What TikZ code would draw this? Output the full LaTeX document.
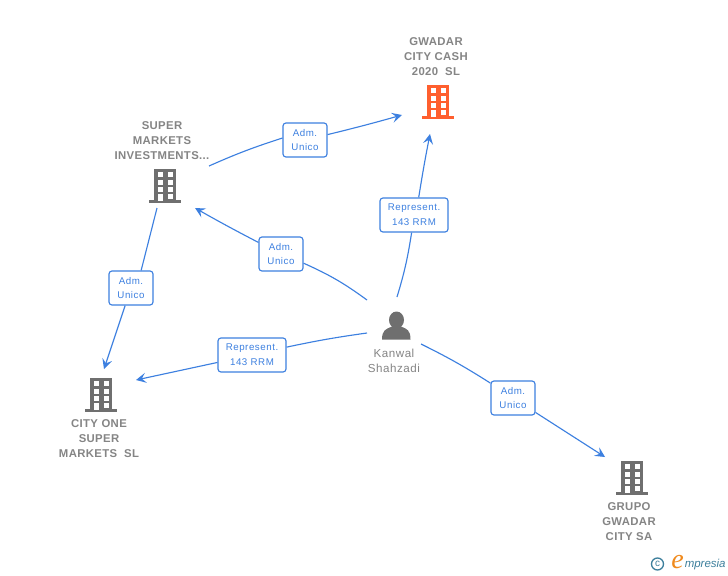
\documentclass[tikz,border=0pt]{standalone}
\usepackage{fontspec}
\setmainfont{Liberation Sans}
\newfontfamily\spacedfont[LetterSpace=4.5]{Liberation Sans}
\newfontfamily\companyfont[LetterSpace=3.2]{Liberation Sans}
\newfontfamily\spacedsmall[LetterSpace=5.5]{Liberation Sans}
\newfontfamily\logofont{Liberation Serif}
\usetikzlibrary{arrows.meta}
\definecolor{linkblue}{HTML}{3D80E0}
\definecolor{icongray}{HTML}{6F6F6F}
\definecolor{textgray}{HTML}{858585}
\definecolor{accent}{HTML}{FF5F2E}
\definecolor{logoteal}{HTML}{3D7F9C}
\definecolor{logoorange}{HTML}{F08A1D}
\tikzset{
  x=0.75pt,y=-0.75pt,
  conn/.style={draw=linkblue,line width=0.85pt},
  arr/.style={conn,-{Stealth[length=7.5pt,width=7.5pt,inset=3pt]}},
  rolebox/.style={draw=linkblue,line width=0.85pt,fill=white,rounded corners=2.2pt,align=center,
    text=linkblue,font=\spacedsmall\fontsize{7.3}{11.2}\selectfont,inner sep=0pt},
  company/.style={align=center,text=textgray,font=\companyfont\bfseries\fontsize{8.5}{11.3}\selectfont,inner sep=0pt},
  personname/.style={align=center,text=textgray,font=\spacedfont\fontsize{8.7}{11.3}\selectfont,inner sep=0pt},
  pics/building/.style={code={
    \fill[#1] (-11,-17) rectangle (11,14);
    \fill[#1] (-16,14) rectangle (16,17);
    \foreach \yy in {-14,-6.5,1}{
      \fill[white] (-7,\yy) rectangle (-2,\yy+5);
      \fill[white] (2.5,\yy) rectangle (7.5,\yy+5);
    }
    \fill[white] (-7,8) rectangle (-2,15);
    \fill[white] (2.5,8) rectangle (7.5,12.5);
  }},
}
\begin{document}
\begin{tikzpicture}
\useasboundingbox (0,0) rectangle (728,575);
\fill[white] (0,0) rectangle (728,575);

% free connector ends
\coordinate (superOut) at (209,166);
\coordinate (gwadarIn) at (402,115);
\coordinate (gwadarIn2) at (430,134);
\coordinate (kanwalUp) at (397,297);
\coordinate (kanwalNW) at (367,300);
\coordinate (superIn) at (195,208);
\coordinate (kanwalW) at (367,333);
\coordinate (oneIn) at (136,380);
\coordinate (superDown) at (157,208);
\coordinate (oneIn2) at (104,369);
\coordinate (kanwalSE) at (421,344);
\coordinate (grupoIn) at (605,457);

% role boxes
\node[rolebox,minimum width=44pt*0.75,minimum height=34pt*0.75] (r1) at (305,140) {Adm.\\Unico};
\node[rolebox,minimum width=68pt*0.75,minimum height=34pt*0.75] (r2) at (414,215) {Represent.\\143 RRM};
\node[rolebox,minimum width=44pt*0.75,minimum height=34pt*0.75] (r3) at (281,254) {Adm.\\Unico};
\node[rolebox,minimum width=68pt*0.75,minimum height=34pt*0.75] (r4) at (252,355) {Represent.\\143 RRM};
\node[rolebox,minimum width=44pt*0.75,minimum height=34pt*0.75] (r5) at (131,288) {Adm.\\Unico};
\node[rolebox,minimum width=44pt*0.75,minimum height=34pt*0.75] (r6) at (513,398) {Adm.\\Unico};

% connectors
\draw[conn] (superOut) to[bend left=3] (r1.175);
\draw[arr] (r1) to[bend right=1] (gwadarIn);
\draw[conn] (kanwalUp) to[bend right=4] (r2);
\draw[arr] (r2.75) to[bend left=1] (gwadarIn2);
\draw[conn] (kanwalNW) to[bend right=6] (r3);
\draw[arr] (r3) to[bend left=1] (superIn);
\draw[conn] (kanwalW) to[bend right=2] (r4);
\draw[arr] (r4) to (oneIn);
\draw[conn] (superDown) to (r5.60);
\draw[arr] (r5) to (oneIn2);
\draw[conn] (kanwalSE) to[bend left=3] (r6);
\draw[arr] (r6) to (grupoIn);

% icons
\pic at (438,102) {building=accent};
\pic at (165,186) {building=icongray};
\pic at (101,395) {building=icongray};
\pic at (632,478) {building=icongray};
\fill[icongray] (396.5,320) ellipse (7.5 and 8.5);
\fill[icongray] (382,339.5) .. controls (382,330) and (386,329) .. (392,326.5)
  -- (401,326.5) .. controls (407,329) and (410.5,330) .. (410.5,339.5) -- cycle;

% labels
\node[company] (gwadar) at (436,56.5) {GWADAR\\CITY CASH\\2020\ \ SL};
\node[company] (super) at (162,140.5) {SUPER\\MARKETS\\INVESTMENTS...};
\node[company] (one) at (99,439) {CITY ONE\\SUPER\\MARKETS\ \ SL};
\node[company] (grupo) at (629,522) {GRUPO\\GWADAR\\CITY SA};
\node[personname] (kanwal) at (394,360.5) {Kanwal\\Shahzadi};

% logo
\node[circle,draw=logoteal,line width=1pt,minimum size=9pt,inner sep=0pt,text=logoteal,font=\fontsize{7.5}{8}\selectfont] (copy) at (657.5,564) {c};
\node[text=logoorange,font=\logofont\itshape\fontsize{21}{21}\selectfont,inner sep=0pt] (ee) at (677.5,562) {e};
\node[anchor=west,text=logoteal,font=\itshape\fontsize{8.6}{10}\selectfont,inner sep=0pt] (pres) at (684.5,564.5) {mpresia};
\end{tikzpicture}
\end{document}
